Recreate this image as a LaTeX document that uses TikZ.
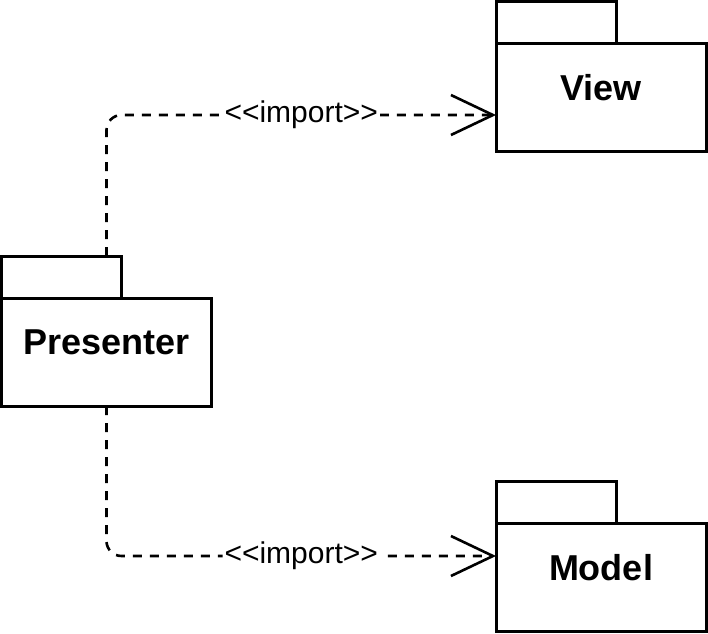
\documentclass[tikz,border=0pt]{standalone}
\usepackage{fontspec}
\setmainfont{Liberation Sans}
\usetikzlibrary{arrows.meta, positioning}

\begin{document}
\begin{tikzpicture}[
                x = 0.5pt, y = -0.5pt, % one unit is one pixel, y downwards
                > = {Straight Barb[length=21pt, width=20pt]}, % open import head
                line width = 1.5pt
            ]

            \tikzstyle{package}=[draw = black, rectangle, inner sep = 0pt,
            outer sep = 0pt, minimum width = 105pt, minimum height = 54pt,
            text depth = 10pt, font = \fontsize{18pt}{20pt}\selectfont\bfseries]
            \tikzstyle{tab}=[draw = black, rectangle, inner sep = 0pt,
            outer sep = 0pt, minimum width = 60pt, minimum height = 21pt,
            anchor = south west]
            \tikzstyle{import}=[dash pattern = on 4.5pt off 4pt,
            line width = 1.3pt, rounded corners = 7.5pt]
            \tikzstyle{stereo}=[fill = white, inner sep = 1pt,
            font = \fontsize{15pt}{17pt}\selectfont]

            \useasboundingbox (0,0) rectangle (708,633);

            \node (presenter) [package] at (106.5,352) {Presenter};
            \node (presentertab) [tab] at (presenter.north west) {};
            \node (view) [package] at (601,97) {View};
            \node (viewtab) [tab] at (view.north west) {};
            \node (model) [package] at (601,577.5) {Model};
            \node (modeltab) [tab] at (model.north west) {};

            % where the imports end on the packages
            \coordinate (viewin) at ([yshift=-9pt]view.west);
            \coordinate (modelin) at ([yshift=10.75pt]model.west);

            \draw[import, ->] (presenter.north |- presentertab.north) |- (viewin)
            node (importview) [stereo, pos = 0.75] {{<}{<}import{>}{>}};
            \draw[import, ->] (presenter.south) |- (modelin)
            node (importmodel) [stereo, pos = 0.75] {{<}{<}import{>}{>}};

        \end{tikzpicture}
\end{document}
